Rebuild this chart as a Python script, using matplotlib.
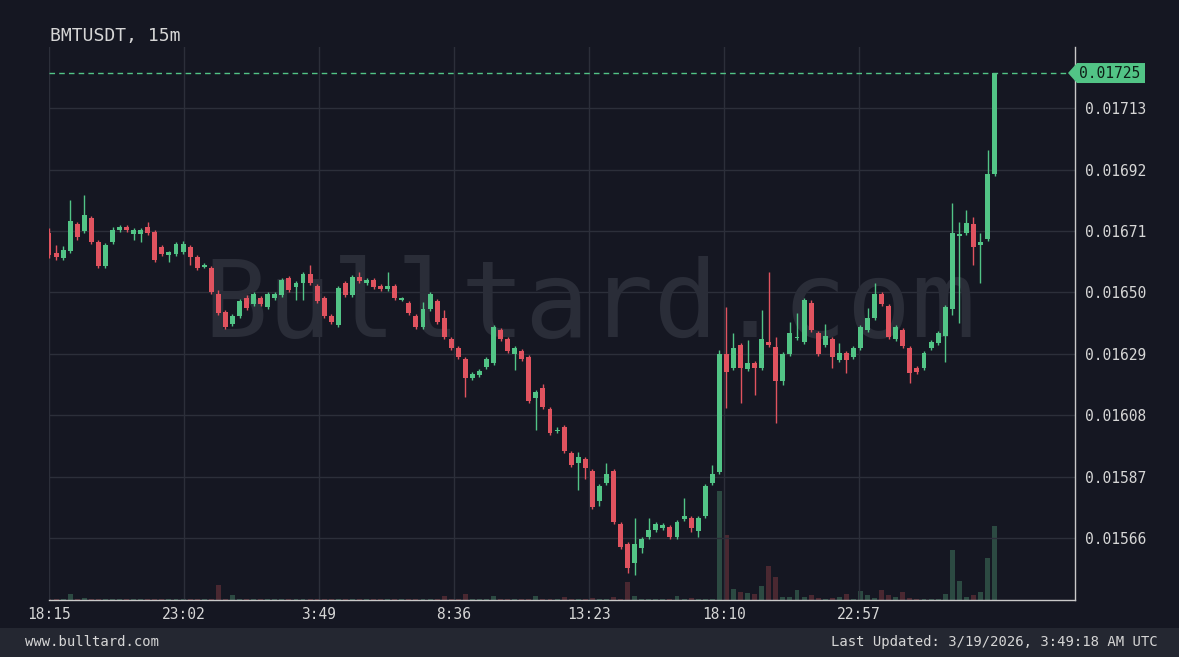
import matplotlib
matplotlib.use("Agg")
import matplotlib.pyplot as plt
import numpy as np
import pandas as pd
from matplotlib.patches import Rectangle, Polygon

symbol = "BMTUSDT"
interval = "15m"
start = pd.Timestamp("2026-03-17 18:15")

opens = [
    0.016703, 0.016634, 0.016617, 0.016641, 0.016733, 0.016710, 0.016754, 0.016672, 0.016590, 0.016672,
    0.016713, 0.016723, 0.016699, 0.016699, 0.016723, 0.016706, 0.016655, 0.016627, 0.016631, 0.016638,
    0.016655, 0.016621, 0.016586, 0.016583, 0.016494, 0.016433, 0.016392, 0.016419, 0.016480, 0.016460,
    0.016480, 0.016450, 0.016480, 0.016491, 0.016549, 0.016518, 0.016532, 0.016563, 0.016521, 0.016480,
    0.016419, 0.016388, 0.016532, 0.016491, 0.016552, 0.016532, 0.016542, 0.016521, 0.016511, 0.016521,
    0.016475, 0.016463, 0.016419, 0.016381, 0.016443, 0.016470, 0.016412, 0.016340, 0.016310, 0.016272,
    0.016207, 0.016217, 0.016245, 0.016258, 0.016371, 0.016340, 0.016289, 0.016299, 0.016279, 0.016139,
    0.016173, 0.016101, 0.016027, 0.016039, 0.015951, 0.015916, 0.015930, 0.015889, 0.015786, 0.015848,
    0.015889, 0.015708, 0.015640, 0.015575, 0.015626, 0.015663, 0.015687, 0.015694, 0.015698, 0.015663,
    0.015725, 0.015728, 0.015684, 0.015735, 0.015848, 0.015886, 0.016289, 0.016241, 0.016320, 0.016238,
    0.016258, 0.016241, 0.016330, 0.016313, 0.016197, 0.016289, 0.016345, 0.016330, 0.016463, 0.016361,
    0.016320, 0.016340, 0.016269, 0.016292, 0.016279, 0.016310, 0.016371, 0.016412, 0.016494, 0.016453,
    0.016340, 0.016371, 0.016310, 0.016241, 0.016241, 0.016310, 0.016327, 0.016351, 0.016443, 0.016694,
    0.016703, 0.016733, 0.016662, 0.016682, 0.016904,
]
highs = [
    0.016720, 0.016662, 0.016658, 0.016815, 0.016740, 0.016833, 0.016761, 0.016679, 0.016668, 0.016723,
    0.016730, 0.016730, 0.016720, 0.016720, 0.016740, 0.016713, 0.016662, 0.016641, 0.016672, 0.016675,
    0.016662, 0.016627, 0.016600, 0.016590, 0.016508, 0.016439, 0.016426, 0.016477, 0.016491, 0.016501,
    0.016487, 0.016501, 0.016501, 0.016549, 0.016556, 0.016539, 0.016569, 0.016593, 0.016528, 0.016487,
    0.016426, 0.016521, 0.016539, 0.016559, 0.016569, 0.016549, 0.016549, 0.016528, 0.016569, 0.016528,
    0.016484, 0.016470, 0.016426, 0.016467, 0.016501, 0.016477, 0.016439, 0.016347, 0.016316, 0.016279,
    0.016227, 0.016238, 0.016279, 0.016388, 0.016378, 0.016347, 0.016316, 0.016306, 0.016286, 0.016166,
    0.016186, 0.016108, 0.016039, 0.016046, 0.015957, 0.015954, 0.015937, 0.015896, 0.015845, 0.015916,
    0.015896, 0.015715, 0.015646, 0.015728, 0.015663, 0.015728, 0.015715, 0.015711, 0.015704, 0.015722,
    0.015797, 0.015735, 0.015735, 0.015845, 0.015910, 0.016303, 0.016450, 0.016361, 0.016327, 0.016337,
    0.016265, 0.016439, 0.016569, 0.016347, 0.016296, 0.016398, 0.016429, 0.016480, 0.016474, 0.016368,
    0.016392, 0.016347, 0.016327, 0.016299, 0.016316, 0.016388, 0.016446, 0.016532, 0.016501, 0.016460,
    0.016388, 0.016378, 0.016316, 0.016248, 0.016299, 0.016337, 0.016368, 0.016457, 0.016805, 0.016740,
    0.016781, 0.016757, 0.016703, 0.016986, 0.017250,
]
lows = [
    0.016617, 0.016610, 0.016610, 0.016634, 0.016679, 0.016703, 0.016665, 0.016583, 0.016583, 0.016665,
    0.016706, 0.016706, 0.016679, 0.016672, 0.016696, 0.016604, 0.016624, 0.016604, 0.016624, 0.016631,
    0.016593, 0.016576, 0.016583, 0.016494, 0.016422, 0.016374, 0.016385, 0.016412, 0.016439, 0.016453,
    0.016453, 0.016443, 0.016474, 0.016484, 0.016501, 0.016474, 0.016474, 0.016525, 0.016463, 0.016412,
    0.016392, 0.016381, 0.016484, 0.016484, 0.016532, 0.016525, 0.016511, 0.016504, 0.016504, 0.016474,
    0.016470, 0.016422, 0.016374, 0.016374, 0.016436, 0.016392, 0.016340, 0.016303, 0.016272, 0.016142,
    0.016200, 0.016210, 0.016238, 0.016251, 0.016333, 0.016292, 0.016234, 0.016265, 0.016122, 0.016029,
    0.016101, 0.016012, 0.016019, 0.015951, 0.015903, 0.015824, 0.015862, 0.015759, 0.015769, 0.015841,
    0.015708, 0.015622, 0.015540, 0.015534, 0.015609, 0.015657, 0.015681, 0.015687, 0.015657, 0.015657,
    0.015718, 0.015681, 0.015663, 0.015728, 0.015841, 0.015879, 0.016104, 0.016234, 0.016122, 0.016231,
    0.016149, 0.016234, 0.016313, 0.016053, 0.016183, 0.016282, 0.016337, 0.016323, 0.016364, 0.016282,
    0.016313, 0.016241, 0.016262, 0.016224, 0.016272, 0.016303, 0.016364, 0.016405, 0.016453, 0.016340,
    0.016333, 0.016310, 0.016190, 0.016221, 0.016234, 0.016303, 0.016320, 0.016262, 0.016422, 0.016395,
    0.016696, 0.016593, 0.016532, 0.016675, 0.016898,
]
closes = [
    0.016627, 0.016621, 0.016645, 0.016744, 0.016689, 0.016764, 0.016672, 0.016590, 0.016662, 0.016713,
    0.016723, 0.016713, 0.016713, 0.016713, 0.016703, 0.016610, 0.016631, 0.016638, 0.016665, 0.016665,
    0.016621, 0.016583, 0.016593, 0.016501, 0.016429, 0.016381, 0.016419, 0.016470, 0.016446, 0.016494,
    0.016460, 0.016494, 0.016494, 0.016542, 0.016508, 0.016532, 0.016563, 0.016532, 0.016470, 0.016419,
    0.016398, 0.016515, 0.016491, 0.016552, 0.016539, 0.016542, 0.016518, 0.016511, 0.016521, 0.016480,
    0.016479, 0.016429, 0.016381, 0.016443, 0.016494, 0.016398, 0.016347, 0.016310, 0.016279, 0.016207,
    0.016221, 0.016231, 0.016272, 0.016381, 0.016340, 0.016299, 0.016310, 0.016272, 0.016128, 0.016159,
    0.016108, 0.016019, 0.016031, 0.015957, 0.015910, 0.015937, 0.015899, 0.015766, 0.015838, 0.015879,
    0.015715, 0.015629, 0.015557, 0.015640, 0.015657, 0.015687, 0.015708, 0.015704, 0.015663, 0.015715,
    0.015735, 0.015694, 0.015728, 0.015838, 0.015879, 0.016289, 0.016227, 0.016310, 0.016241, 0.016258,
    0.016241, 0.016340, 0.016320, 0.016197, 0.016289, 0.016361, 0.016349, 0.016474, 0.016371, 0.016289,
    0.016351, 0.016279, 0.016292, 0.016269, 0.016310, 0.016381, 0.016412, 0.016494, 0.016460, 0.016347,
    0.016381, 0.016316, 0.016224, 0.016227, 0.016292, 0.016330, 0.016361, 0.016450, 0.016703, 0.016698,
    0.016737, 0.016655, 0.016672, 0.016904, 0.017250,
]
volumes = [
    1, 1, 1, 6, 1, 2, 1, 1, 1, 1,
    1, 1, 1, 1, 1, 1, 1, 1, 1, 1,
    1, 1, 1, 1, 15, 1, 5, 1, 1, 1,
    1, 1, 1, 1, 1, 1, 1, 1, 1, 1,
    1, 1, 1, 1, 1, 1, 1, 1, 1, 1,
    1, 1, 1, 1, 1, 1, 4, 1, 1, 6,
    1, 1, 1, 4, 1, 1, 1, 1, 1, 4,
    1, 1, 1, 3, 1, 1, 1, 2, 1, 1,
    3, 1, 18, 4, 1, 1, 1, 1, 1, 4,
    1, 2, 1, 1, 1, 109, 65, 11, 8, 7,
    6, 14, 34, 23, 3, 3, 10, 3, 5, 2,
    1, 2, 3, 6, 1, 9, 5, 2, 10, 5,
    3, 8, 2, 1, 1, 1, 1, 6, 50, 19,
    3, 5, 8, 42, 74,
]
price_ticks = [0.01566, 0.01587, 0.01608, 0.01629, 0.01650, 0.01671, 0.01692, 0.01713]
footer_left = "www.bulltard.com"
footer_right = "Last Updated: 3/19/2026, 3:49:18 AM UTC"
watermark = "Bulltard.com"

# ---- style ----
BG = "#151722"
FOOT = "#242731"
GRID = "#2c2f3a"
TXT = "#d6d6d6"
GREEN = "#52c486"
RED = "#e0535f"
VGREEN = "#2c4a42"
VRED = "#4a2831"
FONT = "DejaVu Sans Mono"
plt.rcParams["font.family"] = FONT

W, H = 1179, 657
fig = plt.figure(figsize=(W / 100, H / 100), dpi=100, facecolor=BG)
ax_l, ax_r, ax_b, ax_t = 49, 1075, 600, 47
ax = fig.add_axes([ax_l / W, 1 - ax_b / H, (ax_r - ax_l) / W, (ax_b - ax_t) / H])
ax2 = ax.twinx()
ax.set_zorder(ax2.get_zorder() + 1)
ax.patch.set_visible(False)
ax2.set_facecolor(BG)

n = len(opens)
x = np.arange(n)
o = np.array(opens); c = np.array(closes); h = np.array(highs); l = np.array(lows)
up = c >= o

# volume
ax2.bar(x, volumes, width=0.7, color=[VGREEN if u else VRED for u in up], linewidth=0, zorder=2)
ax2.set_ylim(0, max(volumes) * 5.07)
ax2.set_yticks([])
for s in ax2.spines.values():
    s.set_visible(False)

# candles
cols = [GREEN if u else RED for u in up]
ax.vlines(x, l, h, colors=cols, linewidth=1, zorder=3)
body_lo = np.minimum(o, c)
body_h = np.maximum(np.abs(c - o), 0.0000025)
ax.bar(x, body_h, bottom=body_lo, width=0.7, color=cols, linewidth=0, zorder=4)

# axes limits / ticks
ax.set_xlim(0, 145.4)
ax.set_ylim(0.015448, 0.017339)
tick_times = pd.date_range(start, periods=7, freq="287min")
tick_pos = (tick_times - start) / pd.Timedelta("15min")
ax.set_xticks(tick_pos)
ax.set_xticklabels([f"{t.hour}:{t.minute:02d}" for t in tick_times])
ax.yaxis.tick_right()
ax.set_yticks(price_ticks)
ax.set_yticklabels([f"{p:.5f}" for p in price_ticks])
ax.tick_params(axis="both", length=0, colors=TXT, labelsize=10.5)
ax.tick_params(axis="y", pad=7)
ax.tick_params(axis="x", pad=5)
ax.grid(True, color=GRID, linewidth=1)
ax.set_axisbelow(True)
for k in ["top", "left"]:
    ax.spines[k].set_visible(False)
for k in ["right", "bottom"]:
    ax.spines[k].set_color("#c9c9c9")
    ax.spines[k].set_linewidth(1)

# watermark
ax.text(0.527, 0.53, watermark, transform=ax.transAxes, ha="center", va="center",
        fontsize=77, color="#2a2d38", zorder=1, family=FONT)

# last price line and label
last = closes[-1]
ax.axhline(last, xmin=0, xmax=0.993, color=GREEN, linestyle=(0, (4, 3)), linewidth=1, zorder=2)
fig.canvas.draw()
bb = ax.get_window_extent()
yd = ax.transData.transform((0, last))[1]
x1 = bb.x1
hh = 10
poly = Polygon([[x1 - 7, yd], [x1 + 2, yd + hh], [x1 + 70, yd + hh], [x1 + 70, yd - hh], [x1 + 2, yd - hh]],
               closed=True, facecolor=GREEN, edgecolor="none", transform=None, zorder=10)
fig.patches.append(poly)
fig.text((x1 + 35) / W, yd / H, f"{last:.5f}", ha="center", va="center", fontsize=10.5,
         color="#0e1f17", zorder=11)

# title
fig.text(50 / W, 1 - 36 / H, f"{symbol}, {interval}", ha="left", va="center", fontsize=13, color=TXT)

# footer
fig.patches.append(Rectangle((0, 0), 1, 29 / H, transform=fig.transFigure, facecolor=FOOT,
                             edgecolor="none", zorder=0))
fig.text(25 / W, 15 / H, footer_left, ha="left", va="center", fontsize=10, color=TXT)
fig.text(1158 / W, 15 / H, footer_right, ha="right", va="center", fontsize=10, color=TXT)

fig.savefig("out.png", dpi=100, facecolor=BG)
